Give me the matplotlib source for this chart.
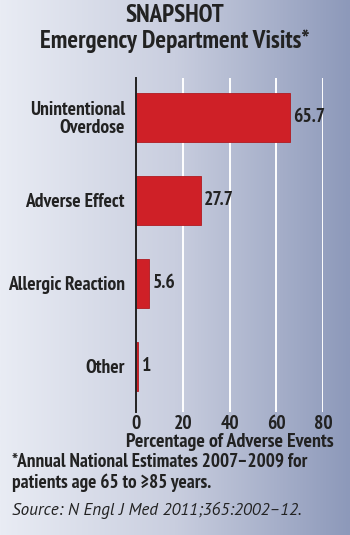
import numpy as np
import matplotlib.pyplot as plt
from matplotlib.colors import LinearSegmentedColormap

# data
categories = ['Unintentional\nOverdose', 'Adverse Effect', 'Allergic Reaction', 'Other']
values = [65.7, 27.7, 5.6, 1]
xticks = [0, 20, 40, 60, 80]

plt.rcParams['font.family'] = ['PT Sans Narrow', 'DejaVu Sans']
plt.rcParams['font.weight'] = 'bold'
ink = '#222222'

fig = plt.figure(figsize=(3.5, 5.35), dpi=100)

# gradient background over the whole figure
bg = fig.add_axes([0, 0, 1, 1], zorder=-10)
cmap = LinearSegmentedColormap.from_list('bg', ['#e9ecf4', '#c9cedf', '#8d99ba'])
grad = np.linspace(0, 1, 256).reshape(1, -1)
bg.imshow(grad, aspect='auto', cmap=cmap, extent=[0, 1, 0, 1])
bg.axis('off')

# plot area: 0 at x=136px, 80 at x=323px, from y=78px to y=412px
ax = fig.add_axes([136 / 350, 1 - 412 / 535, (323 - 136) / 350, (412 - 78) / 535])
ax.patch.set_alpha(0)
ypos = np.arange(len(values))
ax.barh(ypos, values, height=0.59, color='#cf2027', edgecolor='#b01a20', linewidth=0.6, zorder=3)
ax.set_ylim(3.55, -0.47)
ax.set_xlim(0, 80)
ax.set_xticks(xticks)
ax.set_xticklabels([str(t) for t in xticks], fontsize=14, color=ink)
ax.set_yticks(ypos)
ax.set_yticklabels(categories, fontsize=14, color=ink, ha='right', linespacing=1.0)
ax.tick_params(axis='y', length=0, pad=8)
ax.tick_params(axis='x', length=0, pad=2)
ax.xaxis.grid(True, color='white', linewidth=1.4, zorder=1)
ax.set_axisbelow(True)
for s in ['top', 'right', 'bottom']:
    ax.spines[s].set_visible(False)
ax.spines['left'].set_color(ink)
ax.spines['left'].set_linewidth(1.4)
ax.spines['left'].set_zorder(4)
ax.set_xlabel('Percentage of Adverse Events', fontsize=14.3, color=ink, fontweight='bold',
              labelpad=0)

for y, v in zip(ypos, values):
    ax.text(v + 1.5, y, f'{v:g}', va='center', ha='left', fontsize=14, color=ink)

# titles and notes
fig.text(0.5, 1 - 15 / 535, 'SNAPSHOT', ha='center', va='center', fontsize=18, color=ink)
fig.text(0.5, 1 - 41 / 535, 'Emergency Department Visits*', ha='center', va='center',
         fontsize=18, color=ink)
fig.text(12 / 350, 1 - 462 / 535, '*Annual National Estimates 2007\u20132009 for',
         ha='left', va='center', fontsize=13.8, color=ink)
fig.text(12 / 350, 1 - 483 / 535, 'patients age 65 to \u226585 years.',
         ha='left', va='center', fontsize=13.8, color=ink)
fig.text(12 / 350, 1 - 510 / 535, 'Source: N Engl J Med 2011;365:2002\u201312.',
         ha='left', va='center', fontsize=12.3, color=ink, style='italic', fontweight='normal',
         family=['PT Sans', 'DejaVu Sans'])

fig.savefig('out.png', dpi=100)
